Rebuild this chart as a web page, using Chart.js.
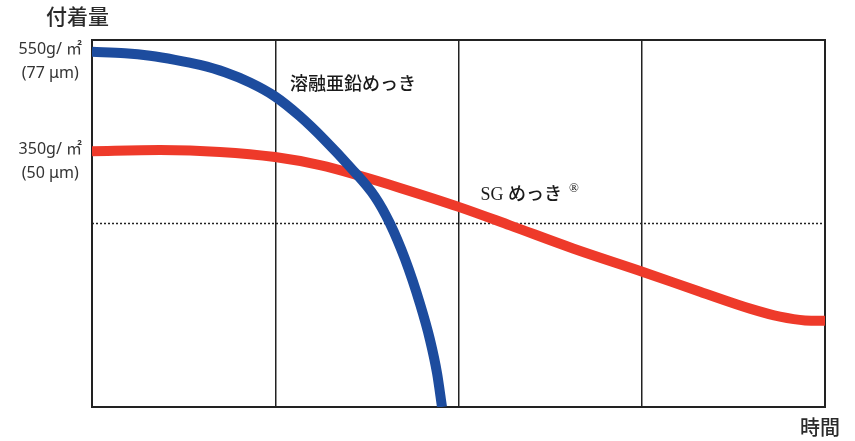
<!DOCTYPE html>
<html>
<head>
<meta charset="utf-8">
<script src="https://cdn.jsdelivr.net/npm/chart.js@4"></script>
<style>
  html, body { margin: 0; padding: 0; background: #fff; }
  #wrap { width: 855px; height: 441px; }
</style>
</head>
<body>
<div id="wrap"><canvas id="coatChart" width="855" height="441"></canvas></div>
<script>
// x = time (4 equal columns), y = relative coating amount (0 = bottom, 100 = top of frame)
const hotDipX = [0, 0.18, 0.317, 0.453, 0.589, 0.726, 0.862, 0.999, 1.135, 1.271, 1.408, 1.544, 1.626, 1.708, 1.79, 1.844, 1.883, 1.91];
const hotDipY = [96.8, 96.4, 95.7, 94.6, 93.2, 91.2, 88.4, 84.6, 79.2, 72.7, 65.4, 57.3, 50.0, 40.3, 28.1, 18.4, 9.2, 0];

const sgX = [0, 0.371, 0.698, 0.999, 1.244, 1.462, 1.681, 1.997, 2.281, 2.625, 3.007, 3.318, 3.591, 3.754, 3.891, 4.0];
const sgY = [69.7, 70.0, 69.5, 68.1, 65.9, 63.0, 59.7, 54.6, 49.5, 43.2, 36.8, 31.4, 26.8, 24.6, 23.6, 23.5];

const limitX = [0, 4];
const limitY = [50, 50];

const yTickValues = [96.8, 69.7];
const yTickLabels = [["550g/ ㎡", "(77 μm)"], ["350g/ ㎡", "(50 μm)"]];

const seriesNames = ["溶融亜鉛めっき", "SG めっき"];

const toPoints = (xs, ys) => xs.map((x, i) => ({ x: x, y: ys[i] }));

// frame + free texts
const extras = {
  id: "extras",
  beforeDatasetsDraw(chart) {
    const { ctx, chartArea: a } = chart;
    ctx.save();
    ctx.strokeStyle = "#222";
    ctx.lineWidth = 2;
    ctx.strokeRect(a.left, a.top, a.right - a.left, a.bottom - a.top);
    ctx.restore();
  },
  afterDatasetsDraw(chart) {
    const { ctx } = chart;
    const xs = chart.scales.x, ys = chart.scales.y;
    ctx.save();
    ctx.fillStyle = "#2a2a2a";
    ctx.textBaseline = "middle";
    ctx.textAlign = "left";
    ctx.font = "500 21px 'Noto Sans CJK JP'";
    ctx.fillText("付着量", 46, 16);
    ctx.font = "500 20px 'Noto Sans CJK JP'";
    ctx.fillText("時間", 800, 427);

    ctx.fillStyle = "#1a1a1a";
    ctx.font = "500 18px 'Liberation Serif', 'Noto Sans CJK JP'";
    ctx.fillText(seriesNames[0], xs.getPixelForValue(1.08), ys.getPixelForValue(87.6));
    const sx = xs.getPixelForValue(2.12), sy = ys.getPixelForValue(57.8);
    ctx.fillText(seriesNames[1], sx, sy);
    const w = ctx.measureText(seriesNames[1]).width;
    ctx.font = "13px 'Liberation Serif'";
    ctx.fillText("®", sx + w + 7, sy - 6);
    ctx.restore();
  }
};

new Chart(document.getElementById("coatChart"), {
  type: "line",
  data: {
    datasets: [
      {
        label: seriesNames[1],
        data: toPoints(sgX, sgY),
        borderColor: "#ee3a2a",
        borderWidth: 10,
        pointRadius: 0,
        cubicInterpolationMode: "monotone",
        borderCapStyle: "butt",
        order: 2
      },
      {
        label: seriesNames[0],
        data: toPoints(hotDipX, hotDipY),
        borderColor: "#1d4c9e",
        borderWidth: 10,
        pointRadius: 0,
        cubicInterpolationMode: "monotone",
        borderCapStyle: "butt",
        order: 1
      },
      {
        label: "limit",
        data: toPoints(limitX, limitY),
        borderColor: "#222",
        borderWidth: 1.5,
        borderDash: [2, 2],
        pointRadius: 0,
        order: 3
      }
    ]
  },
  options: {
    responsive: false,
    animation: false,
    layout: { padding: { top: 40, right: 30, bottom: 31, left: 0 } },
    plugins: { legend: { display: false }, tooltip: { enabled: false } },
    scales: {
      x: {
        type: "linear",
        min: 0,
        max: 4,
        ticks: { display: false, stepSize: 1 },
        grid: { color: "#222", lineWidth: 1.5, drawTicks: false },
        border: { display: false },
        afterFit(scale) { scale.height = 0; }
      },
      y: {
        min: 0,
        max: 100,
        afterBuildTicks(scale) {
          scale.ticks = yTickValues.map((v) => ({ value: v }));
        },
        afterFit(scale) { scale.width = 92; },
        ticks: {
          padding: 10,
          crossAlign: "center",
          labelOffset: 10,
          color: "#333",
          font: { family: "'Noto Sans', 'Noto Sans CJK JP'", size: 16, lineHeight: 1.5 },
          callback(value, index) { return yTickLabels[index]; }
        },
        grid: { display: false, drawTicks: false },
        border: { display: false }
      }
    }
  },
  plugins: [extras]
});
</script>
</body>
</html>
